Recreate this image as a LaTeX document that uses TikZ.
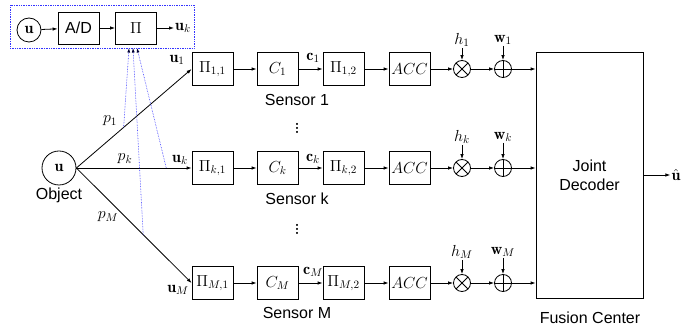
\RequirePackage{fix-cm}
\documentclass[tikz,border=0pt]{standalone}
\usepackage{fontspec}
\newfontfamily\arialf{Liberation Sans}
\usetikzlibrary{arrows.meta}
\tikzset{
  lw/.style={line width=0.8pt},
  blk/.style={draw, lw, minimum width=41pt, minimum height=33pt, inner sep=0pt},
  lbl/.style={inner sep=1pt},
  sans/.style={font=\arialf\fontsize{16}{19}\selectfont},
  dotsv/.style={inner sep=0pt, font=\fontsize{26}{30}\selectfont\boldmath},
  mult/.style={draw, lw, circle, minimum size=17pt, inner sep=0pt,
    path picture={\draw[lw] (path picture bounding box.center) +(45:8.5pt) -- +(225:8.5pt)
      (path picture bounding box.center) +(135:8.5pt) -- +(315:8.5pt);}},
  adder/.style={draw, lw, circle, minimum size=17pt, inner sep=0pt,
    path picture={\draw[lw] (path picture bounding box.center) +(0:8.5pt) -- +(180:8.5pt)
      (path picture bounding box.center) +(90:8.5pt) -- +(270:8.5pt);}},
  arr/.style={lw, -{Latex[length=5pt,width=3.5pt]}},
  barr/.style={blue!80, densely dotted, line width=0.6pt, -{Latex[length=4.5pt,width=3pt,color=black!80!blue,fill=black!80!blue]}},
}
\begin{document}
\begin{tikzpicture}[x=1pt, y=-1pt, font=\fontsize{16}{19}\selectfont]
\useasboundingbox (0,0) rectangle (699,328);

% top group
\node[draw=blue!80, densely dotted, line width=0.7pt, minimum width=184pt, minimum height=43pt, inner sep=0pt] (grp) at (102,26.5) {};
\node[draw, lw, circle, minimum size=24pt, inner sep=0pt] (u0) at (29,30) {$\mathbf{u}$};
\node[blk, minimum height=32pt, sans] (ad) at (78.5,28) {A/D};
\node[blk, minimum height=32pt] (pi0) at (136,28) {$\Pi$};
\node[lbl] (uk0) at (183,28) {$\mathbf{u}_k$};
\draw[arr] (u0) -- (ad);
\draw[arr] (ad) -- (pi0);
\draw[arr] (pi0) -- (uk0);

% object
\node[draw, lw, circle, minimum size=34pt, inner sep=0pt] (obj) at (59,168) {$\mathbf{u}$};
\node[sans, lbl] (objl) at (59,195) {Object};

% rows
\foreach \r/\y/\s in {1/69/1, k/168/k, M/283/M}{
  \node[blk] (pa\r) at (212.5,\y) {$\Pi_{\s,1}$};
  \node[blk] (c\r) at (277.5,\y) {$C_{\s}$};
  \node[blk] (pb\r) at (343.5,\y) {$\Pi_{\s,2}$};
  \node[blk] (acc\r) at (409.5,\y) {$ACC$};
  \node[mult] (m\r) at (462,\y) {};
  \node[adder] (a\r) at (503,\y) {};
  \draw[arr] (pa\r) -- (c\r);
  \draw[arr] (c\r) -- (pb\r);
  \draw[arr] (pb\r) -- (acc\r);
  \draw[arr] (acc\r) -- (m\r);
  \draw[arr] (m\r) -- (a\r);
}
\node[lbl] (h1) at (462,40) {$h_1$};
\node[lbl] (hk) at (462,137) {$h_k$};
\node[lbl] (hM) at (462,252) {$h_M$};
\node[lbl] (w1) at (503,40) {$\mathbf{w}_1$};
\node[lbl] (wk) at (503,137) {$\mathbf{w}_k$};
\node[lbl] (wM) at (503,252) {$\mathbf{w}_M$};
\foreach \r in {1,k,M}{
  \draw[arr] (h\r) -- (m\r);
  \draw[arr] (w\r) -- (a\r);
}
\node[lbl] (c1l) at (313,58) {$\mathbf{c}_1$};
\node[lbl] (ckl) at (313,159) {$\mathbf{c}_k$};
\node[lbl] (cMl) at (313,272) {$\mathbf{c}_M$};

\node[sans, lbl] (s1) at (297,100) {Sensor 1};
\node[sans, lbl] (sk) at (297,199) {Sensor k};
\node[sans, lbl] (sM) at (297,313) {Sensor M};
\node[dotsv, anchor=south] (vd1) at (297,134) {$\vdots$};
\node[dotsv, anchor=south] (vd2) at (297,235) {$\vdots$};

% decoder
\node[draw, lw, minimum width=107pt, minimum height=246pt, sans, align=center] (dec) at (589.5,175) {Joint\\Decoder};
\node[sans, lbl] (fc) at (590,318) {Fusion Center};
\node[lbl] (uhat) at (676,175) {$\hat{\mathbf{u}}$};
\draw[arr] (dec) -- (uhat);
\foreach \r in {1,k,M}{
  \draw[arr] (a\r) -- (a\r -| dec.west);
}

% object links
\draw[arr] (obj.east) -- coordinate[pos=0.41] (q1) (pa1.west);
\draw[arr] (obj.east) -- coordinate[pos=0.78] (qk) (pak.west);
\draw[arr] (obj.east) -- coordinate[pos=0.58] (qM) (paM.west);
\node[lbl] (p1l) at (110,121) {$p_1$};
\node[lbl] (pkl) at (125,159) {$p_k$};
\node[lbl] (pMl) at (108,217) {$p_M$};
\node[lbl] (u1l) at (177,60) {$\mathbf{u}_1$};
\node[lbl] (ukl) at (180,160) {$\mathbf{u}_k$};
\node[lbl] (uMl) at (178,290) {$\mathbf{u}_M$};

% blue dotted feedback
\coordinate (t1) at (129,48);
\coordinate (tM) at (133,48);
\coordinate (tk) at (137,48);
\draw[barr] (q1) -- (t1);
\draw[barr] (qM) -- (tM);
\draw[barr] (qk) -- (tk);
\end{tikzpicture}
\end{document}
